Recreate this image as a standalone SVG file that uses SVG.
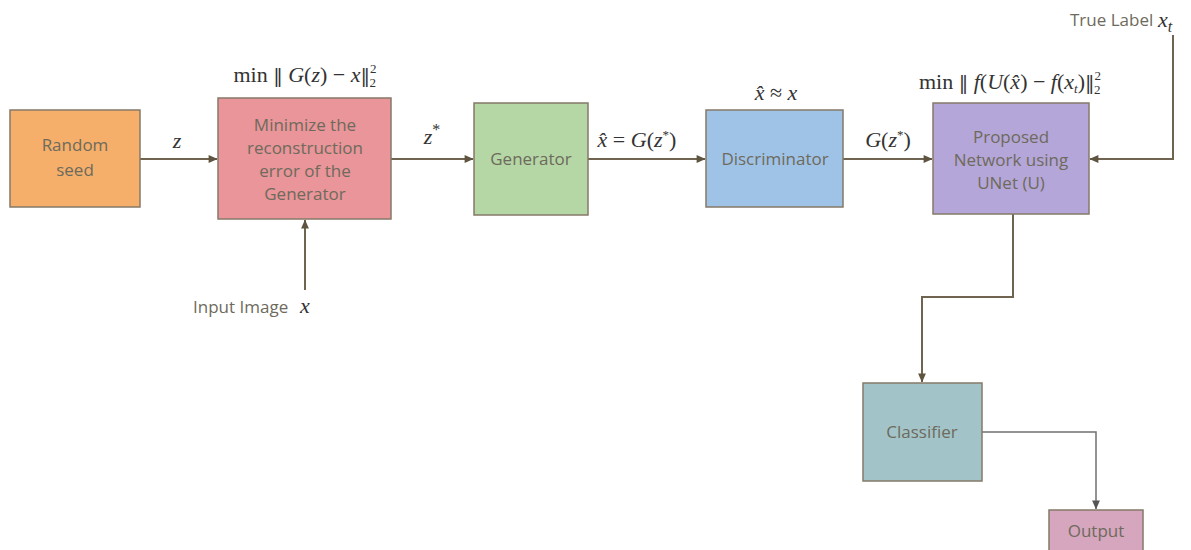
<svg xmlns="http://www.w3.org/2000/svg" width="1191" height="550" viewBox="0 0 1191 550">
<style>
.box{stroke:#857a68;stroke-width:1.5}
.t{font-family:"Open Sans",sans-serif;font-size:17px;fill:#6e6a5c;text-anchor:middle}
.m{font-family:"Liberation Serif",serif;font-size:22px;fill:#333;text-anchor:middle}
.mi{font-style:italic}
.n{font-family:"DejaVu Serif",serif;font-style:normal;font-size:19px}
.c{fill:none;stroke:#6e6450;stroke-width:2}
.c2{fill:none;stroke:#707070;stroke-width:1.5}
</style>
<defs>
<marker id="ah" viewBox="0 0 10 10" refX="9" refY="5" markerWidth="6" markerHeight="6" orient="auto" markerUnits="userSpaceOnUse" style="overflow:visible">
<path d="M-5,-1.5 L10,5 L-5,11.5 z" fill="#5e5440"/>
</marker>
<marker id="ah2" viewBox="0 0 10 10" refX="9" refY="5" markerWidth="6" markerHeight="6" orient="auto" markerUnits="userSpaceOnUse" style="overflow:visible">
<path d="M-5,-1.5 L10,5 L-5,11.5 z" fill="#555"/>
</marker>
</defs>
<rect width="1191" height="550" fill="#fff"/>
<g id="connectors">
<line class="c" x1="140" y1="159" x2="217" y2="159" marker-end="url(#ah)"/>
<line class="c" x1="391" y1="159" x2="473" y2="159" marker-end="url(#ah)"/>
<line class="c" x1="588" y1="159" x2="705" y2="159" marker-end="url(#ah)"/>
<line class="c" x1="843" y1="159" x2="932" y2="159" marker-end="url(#ah)"/>
<polyline class="c" points="1173,35 1173,159 1090,159" marker-end="url(#ah)"/>
<line class="c" x1="305" y1="290" x2="305" y2="220" marker-end="url(#ah)"/>
<polyline class="c" points="1013,214 1013,297 922,297 922,382" marker-end="url(#ah)"/>
<polyline class="c2" points="982,432 1096,432 1096,509" marker-end="url(#ah2)"/>
</g>
<g id="random-seed">
<rect class="box" x="10" y="110" width="130" height="97" fill="#f5af6a"/>
<text class="t" x="75" y="151">Random</text>
<text class="t" x="75" y="176">seed</text>
</g>
<g id="minimize">
<rect class="box" x="218" y="98" width="173" height="121" fill="#e99599"/>
<text class="t" x="305" y="131">Minimize  the</text>
<text class="t" x="305" y="154">reconstruction</text>
<text class="t" x="305" y="177">error of the</text>
<text class="t" x="305" y="200">Generator</text>
</g>
<g id="generator">
<rect class="box" x="474" y="103" width="114" height="112" fill="#b5d7a6"/>
<text class="t" x="531" y="165">Generator</text>
</g>
<g id="discriminator">
<rect class="box" x="706" y="110" width="137" height="97" fill="#9fc3e7"/>
<text class="t" x="775" y="165">Discriminator</text>
</g>
<g id="proposed">
<rect class="box" x="933" y="103" width="156" height="111" fill="#b4a6d8"/>
<text class="t" x="1011" y="143">Proposed</text>
<text class="t" x="1011" y="166">Network using</text>
<text class="t" x="1011" y="189">UNet (U)</text>
</g>
<g id="classifier">
<rect class="box" x="863" y="383" width="119" height="98" fill="#a2c4c9"/>
<text class="t" x="922" y="438">Classifier</text>
</g>
<g id="output">
<rect class="box" x="1049" y="510" width="94" height="45" fill="#d5a6bd"/>
<text class="t" x="1096" y="537">Output</text>
</g>
<g id="labels">
<text class="m" x="305" y="82">min <tspan class="n">‖</tspan> <tspan class="mi">G</tspan>(<tspan class="mi">z</tspan>) − <tspan class="mi">x</tspan><tspan class="n">‖</tspan><tspan font-size="13" dy="-9">2</tspan><tspan font-size="13" dx="-7" dy="14">2</tspan></text>
<text class="m mi" x="177" y="148" font-size="26">z</text>
<text class="m mi" x="432" y="144" font-size="26">z<tspan font-size="16" dy="-9" font-style="normal">*</tspan></text>
<text class="m" x="637" y="147"><tspan class="mi">x̂</tspan> = <tspan class="mi">G</tspan>(<tspan class="mi">z</tspan><tspan font-size="13" dy="-8">*</tspan><tspan dy="8">)</tspan></text>
<text class="m" x="776" y="100" font-size="24"><tspan class="mi">x̂</tspan> ≈ <tspan class="mi">x</tspan></text>
<text class="m" x="888" y="147"><tspan class="mi">G</tspan>(<tspan class="mi">z</tspan><tspan font-size="13" dy="-8">*</tspan><tspan dy="8">)</tspan></text>
<text class="m" x="1010" y="89">min <tspan class="n">‖</tspan> <tspan class="mi">f</tspan>(<tspan class="mi">U</tspan>(<tspan class="mi">x̂</tspan>) − <tspan class="mi">f</tspan>(<tspan class="mi">x</tspan><tspan font-size="13" class="mi" dy="4">t</tspan><tspan dy="-4">)</tspan><tspan class="n">‖</tspan><tspan font-size="13" dy="-9">2</tspan><tspan font-size="13" dx="-7" dy="14">2</tspan></text>
<text class="t" x="1070" y="26" style="text-anchor:start">True Label</text>
<text class="m mi" x="1165" y="27" font-size="27">x<tspan font-size="16" dy="5">t</tspan></text>
<text class="t" x="193" y="313" style="text-anchor:start">Input Image</text>
<text class="m mi" x="305" y="313" font-size="27">x</text>
</g>
</svg>
